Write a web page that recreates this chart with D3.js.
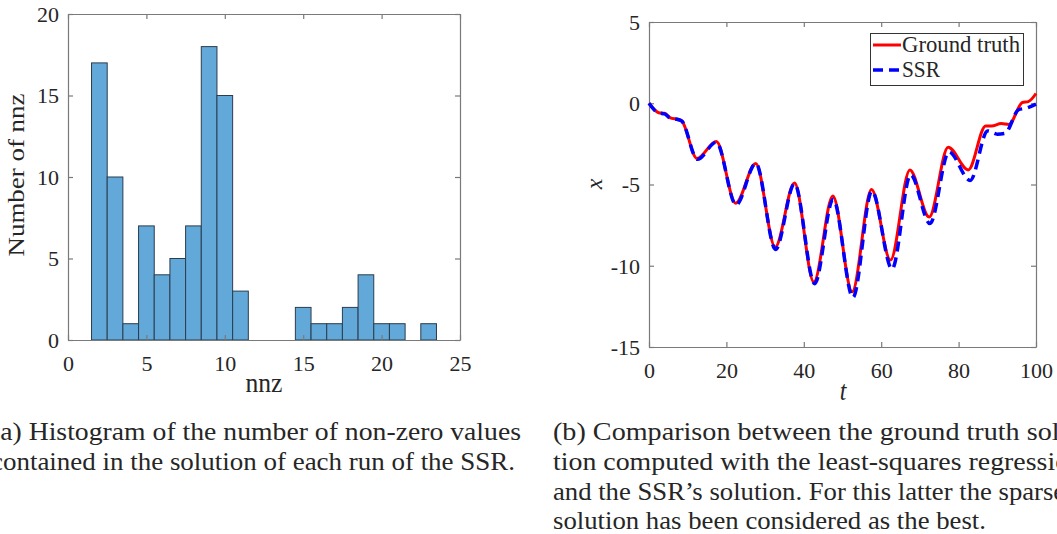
<!DOCTYPE html>
<html><head><meta charset="utf-8">
<script src="https://cdn.jsdelivr.net/npm/d3@7"></script>
<style>
html,body{margin:0;padding:0;background:#fff;overflow:hidden}
svg{display:block}
svg text{font-family:"Liberation Serif","Times New Roman",Tinos,Times,serif;fill:#262626}
</style></head>
<body>
<svg id="c" width="1057" height="534"></svg>
<script>
// ---------- data ----------
const binCenters = [2,3,4,5,6,7,8,9,10,11,12,13,14,15,16,17,18,19,20,21,22,23];
const binCounts  = [17,10,1,7,4,5,7,18,15,3,0,0,0,2,1,1,2,4,1,1,0,1];
const histXTicks = [0,5,10,15,20,25];
const histYTicks = [0,5,10,15,20];

const truthT = [0,2.5,4,5.5,7.5,8.5,12.4,17.4,22.4,27.6,32.6,37.6,42.6,47.5,52.5,57.5,62.4,67.4,72.4,77.3,82.5,87,88.5,91,93,96.5,98,100];
const truthX = [0,-0.58,-0.62,-0.9,-1.0,-1.1,-3.4,-2.35,-6.15,-3.7,-8.85,-4.9,-11.0,-5.7,-11.6,-5.3,-9.65,-4.1,-7.0,-2.7,-4.1,-1.4,-1.4,-1.25,-1.3,0.05,0.1,0.6];
const ssrT = [0,2.5,4,5.5,7.5,8.5,12.5,17.4,22.5,27.6,32.7,37.6,42.8,47.6,52.7,57.6,62.8,67.6,72.6,77.5,83,87.5,90,92,95.5,97.5,100];
const ssrX = [0,-0.6,-0.65,-0.92,-1.0,-1.1,-3.45,-2.4,-6.25,-3.7,-9.0,-4.95,-11.1,-5.9,-11.95,-5.4,-10.2,-4.4,-7.4,-3.0,-4.75,-1.7,-1.9,-1.85,-0.4,-0.3,-0.05];
const lineXTicks = [0,20,40,60,80,100];
const lineYTicks = [-15,-10,-5,0,5];
const legendLabels = ["Ground truth","SSR"];

const captionA = ["(a) Histogram of the number of non-zero values","contained in the solution of each run of the SSR."];
const captionB = ["(b) Comparison between the ground truth solu-","tion computed with the least-squares regression","and the SSR\u2019s solution. For this latter the sparsest","solution has been considered as the best."];

// ---------- drawing ----------
const svg = d3.select("#c");
const axisCol = "#7a7a7a", fs = 22, SY = 1.12;
const FONT = '"Liberation Serif","Times New Roman",Tinos,Times,serif';
const fmt = d => String(d);   // plain hyphen-minus like the reference

function addText(x, y, str, o){
  const g = svg.append("g").attr("transform", `translate(${x},${y}) rotate(${o.rot||0}) scale(1,${o.sy||SY})`);
  const t = g.append("text").attr("x",0).attr("y",0)
    .attr("text-anchor", o.anchor||"start")
    .attr("font-family",FONT)
    .style("font-family",FONT).style("font-size",(o.size||fs)+"px")
    .style("font-style", o.italic?"italic":"normal").text(str);
  if (o.len) t.attr("textLength",o.len).attr("lengthAdjust",o.adj||"spacingAndGlyphs");
  return t;
}

function boxAxes(g, x, y, xt, yt){
  const [x0,x1] = x.range(), [y0,y1] = y.range();
  const tl = 5;
  g.append("g").attr("class","xb").attr("transform",`translate(0,${y0})`)
    .call(d3.axisBottom(x).tickValues(xt).tickSizeInner(-tl).tickSizeOuter(0).tickPadding(10).tickFormat(fmt));
  g.append("g").attr("transform",`translate(0,${y1})`)
    .call(d3.axisTop(x).tickValues(xt).tickSizeInner(-tl).tickSizeOuter(0).tickFormat(""));
  g.append("g").attr("class","yl").attr("transform",`translate(${x0},0)`)
    .call(d3.axisLeft(y).tickValues(yt).tickSizeInner(-tl).tickSizeOuter(0).tickPadding(9).tickFormat(fmt));
  g.append("g").attr("transform",`translate(${x1},0)`)
    .call(d3.axisRight(y).tickValues(yt).tickSizeInner(-tl).tickSizeOuter(0).tickFormat(""));
  g.selectAll("g").attr("font-family",FONT).attr("font-size",fs);
  g.selectAll(".domain").attr("stroke",axisCol).attr("stroke-width",1.2);
  g.selectAll(".tick line").attr("stroke",axisCol).attr("stroke-width",1.2);
  g.selectAll(".tick text").style("font-family",FONT).style("font-size",fs+"px").attr("fill","#262626");
  g.select(".xb").selectAll(".tick text").attr("dy","0.95em");
  g.select(".yl").selectAll(".tick text").attr("dy","0.34em");
}

// Left: histogram
const hx = d3.scaleLinear().domain([0,25]).range([68,460]);
const hy = d3.scaleLinear().domain([0,20]).range([340,14]);
const gL = svg.append("g");
gL.selectAll("rect").data(binCenters.map((c,i)=>({c,n:binCounts[i]})).filter(d=>d.n>0))
  .join("rect")
  .attr("x",d=>hx(d.c-0.5)).attr("width",d=>hx(d.c+0.5)-hx(d.c-0.5))
  .attr("y",d=>hy(d.n)).attr("height",d=>hy(0)-hy(d.n))
  .attr("fill","#62a8d8").attr("stroke","#2b3d4f").attr("stroke-width",1);
boxAxes(svg.append("g"), hx, hy, histXTicks, histYTicks);
addText(264, 392, "nnz", {anchor:"middle", size:24, len:37});
addText(24, 175, "Number of nnz", {anchor:"middle", size:24, rot:-90, sy:1, len:163});

// Right: line chart
const lx = d3.scaleLinear().domain([0,100]).range([649,1036]);
const ly = d3.scaleLinear().domain([-15,5]).range([347,22]);
boxAxes(svg.append("g"), lx, ly, lineXTicks, lineYTicks);
const line = d3.line().x(d=>lx(d[0])).y(d=>ly(d[1])).curve(d3.curveMonotoneX);
svg.append("clipPath").attr("id","cp").append("rect").attr("x",647).attr("y",20).attr("width",392).attr("height",329);
const gR = svg.append("g").attr("clip-path","url(#cp)");
gR.append("path").attr("d",line(truthT.map((t,i)=>[t,truthX[i]]))).attr("fill","none").attr("stroke","#ff0000").attr("stroke-width",3);
gR.append("path").attr("d",line(ssrT.map((t,i)=>[t,ssrX[i]]))).attr("fill","none").attr("stroke","#0000ff").attr("stroke-width",3.5).attr("stroke-dasharray","10,6");
addText(843, 400, "t", {anchor:"middle", size:24, italic:true});
addText(602, 184, "x", {anchor:"middle", size:24, italic:true, rot:-90, sy:1});

// legend
const lg = svg.append("g");
lg.append("rect").attr("x",870.5).attr("y",33.5).attr("width",153).attr("height",52).attr("fill","#fff").attr("stroke","#333").attr("stroke-width",1);
lg.append("line").attr("x1",873).attr("x2",901).attr("y1",45).attr("y2",45).attr("stroke","#ff0000").attr("stroke-width",3);
lg.append("line").attr("x1",873).attr("x2",901).attr("y1",70).attr("y2",70).attr("stroke","#0000ff").attr("stroke-width",3.5).attr("stroke-dasharray","10,6");
legendLabels.forEach((d,i)=>addText(902, 52+i*25, d, {size:20, len: i===0?118:38}));

// captions
const capY = [440,470,500,529];
captionA.forEach((d,i)=>addText(-9, capY[i], d, {size:23, sy:1.05, len: i===0?530:524}));
captionB.forEach((d,i)=>addText(553, capY[i], d, {size:23, sy:1.05, len: i===3?433:530}));
</script>
</body></html>
